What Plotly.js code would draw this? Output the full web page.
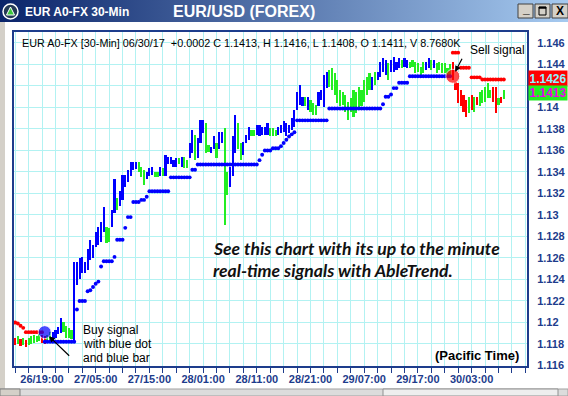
<!DOCTYPE html>
<html><head><meta charset="utf-8">
<script src="https://cdn.plot.ly/plotly-3.0.1.min.js"></script>
<style>html,body{margin:0;padding:0;background:#fff;overflow:hidden}#chart{width:568px;height:396px}</style>
</head><body><div id="chart"></div>
<script>
// ---------------- data ----------------
const firstBar = '2017-06-26 14:00';
const barMinutes = 30;

const barHigh = [
 1.1186,1.1187,1.1185,1.1186,1.1184,1.1186,1.1187,1.1188,1.1187,1.1189,1.1188,1.1187,
 1.1188,1.1191,1.1191,1.1193,1.1196,1.1204,1.1200,1.1197,1.1195,1.1193,
 1.1256,1.1256,1.1260,1.1261,1.1256,1.1268,1.1277,1.1272,1.1284,1.1289,1.1293,1.1307,
 1.1289,1.1288,1.1305,1.1333,1.1316,1.1322,1.1337,1.1337,1.1342,1.1349,1.1349,1.1349,
 1.1349,1.1345,1.1342,1.1340,1.1344,1.1345,1.1340,1.1340,1.1345,1.1344,1.1356,1.1354,
 1.1354,1.1351,1.1353,1.1353,1.1354,1.1354,1.1351,1.1367,1.1379,1.1374,1.1372,1.1388,
 1.1388,1.1386,1.1365,1.1363,1.1373,1.1367,1.1377,1.1377,1.1381,1.1340,1.1345,1.1373,
 1.1393,1.1386,1.1367,1.1368,1.1374,1.1382,1.1379,1.1379,1.1384,1.1384,1.1382,1.1382,
 1.1386,1.1381,1.1381,1.1379,1.1382,1.1384,1.1387,1.1386,1.1384,1.1390,1.1398,1.1414,
 1.1421,1.1410,1.1410,1.1410,1.1407,1.1404,1.1402,1.1414,1.1416,1.1430,1.1433,1.1435,
 1.1437,1.1432,1.1426,1.1416,1.1414,1.1412,1.1405,1.1409,1.1416,1.1414,1.1419,1.1416,
 1.1426,1.1428,1.1432,1.1428,1.1433,1.1433,1.1442,1.1446,1.1444,1.1441,1.1444,1.1447,
 1.1442,1.1446,1.1444,1.1446,1.1444,1.1442,1.1444,1.1442,1.1441,1.1438,1.1442,1.1442,
 1.1446,1.1444,1.1444,1.1441,1.1442,1.1441,1.1441,1.1437,1.1440,1.1442,1.1424,1.1423,
 1.1416,1.1412,1.1407,1.1410,1.1412,1.1410,1.1410,1.1414,1.1416,1.1419,1.1423,1.1416,
 1.1419,1.1419,1.1409,1.1410,1.1416
];
const barLow = [
 1.1179,1.1180,1.1178,1.1179,1.1177,1.1179,1.1180,1.1181,1.1182,1.1183,1.1181,1.1180,
 1.1183,1.1184,1.1184,1.1186,1.1189,1.1190,1.1191,1.1186,1.1186,1.1185,
 1.1182,1.1235,1.1240,1.1246,1.1246,1.1249,1.1258,1.1260,1.1270,1.1272,1.1275,1.1284,
 1.1274,1.1275,1.1289,1.1302,1.1305,1.1308,1.1314,1.1326,1.1331,1.1336,1.1342,1.1343,
 1.1340,1.1335,1.1328,1.1333,1.1336,1.1337,1.1335,1.1335,1.1336,1.1336,1.1336,1.1347,
 1.1347,1.1345,1.1345,1.1347,1.1345,1.1344,1.1344,1.1353,1.1358,1.1351,1.1353,1.1367,
 1.1376,1.1358,1.1359,1.1358,1.1361,1.1353,1.1361,1.1367,1.1291,1.1319,1.1326,1.1336,
 1.1358,1.1361,1.1351,1.1356,1.1367,1.1370,1.1373,1.1373,1.1374,1.1373,1.1374,1.1374,
 1.1374,1.1373,1.1373,1.1373,1.1374,1.1376,1.1377,1.1373,1.1376,1.1379,1.1382,1.1398,
 1.1402,1.1401,1.1401,1.1398,1.1396,1.1393,1.1393,1.1401,1.1407,1.1400,1.1418,1.1419,
 1.1416,1.1412,1.1404,1.1401,1.1402,1.1396,1.1388,1.1396,1.1391,1.1395,1.1398,1.1401,
 1.1405,1.1412,1.1416,1.1416,1.1421,1.1426,1.1428,1.1433,1.1430,1.1426,1.1433,1.1433,
 1.1435,1.1437,1.1437,1.1438,1.1437,1.1437,1.1438,1.1432,1.1433,1.1427,1.1432,1.1435,
 1.1437,1.1435,1.1437,1.1432,1.1435,1.1432,1.1432,1.1427,1.1428,1.1426,1.1416,1.1404,
 1.1401,1.1396,1.1391,1.1395,1.1398,1.1396,1.1402,1.1401,1.1404,1.1405,1.1409,1.1409,
 1.1405,1.1395,1.1402,1.1404,1.1408
];
// trend colour of each bar: B = up (blue), G = neutral (green), R = down (red)
const barTrend = (
 'RGRGRGGGGGRR GGBBBBGGGG BBBBBBBBBBBB GG BB G BBBBBBB GGG BBB GG B G BBBBB G B GG BB G BBB GG BB G BB GG BBB GG BBB GG ' +
 'BBBBB GGG BBBBBBBBBB G B GGG BBBB GGGGGGGGGGGGGGGG B G BBBB G BBBB G BB GGGGGG BB G B GGGGGG RRRRRR G R G R GGGGG RR G R G'
).replace(/\s/g, '').split('');
// trailing stop level under / over each bar
const stopLevel = [
 1.1200,1.1199,1.1197,1.1195,1.1191,1.1191,1.1191,1.1191,1.1191,1.1191,1.1191,1.1182,
 1.1182,1.1182,1.1182,1.1182,1.1182,1.1182,1.1182,1.1182,1.1182,1.1182,
 1.1182,1.1212,1.1220,1.1220,1.1220,1.1229,1.1230,1.1233,1.1236,1.1238,1.1252,1.1257,
 1.1257,1.1257,1.1257,1.1261,1.1277,1.1277,1.1277,1.1288,1.1298,1.1298,1.1312,1.1312,
 1.1312,1.1314,1.1314,1.1317,1.1322,1.1322,1.1322,1.1322,1.1322,1.1322,1.1322,1.1322,
 1.1335,1.1335,1.1335,1.1335,1.1335,1.1335,1.1335,1.1335,1.1342,1.1342,1.1347,1.1347,
 1.1347,1.1347,1.1347,1.1347,1.1347,1.1347,1.1347,1.1347,1.1347,1.1347,1.1347,1.1347,
 1.1347,1.1347,1.1347,1.1347,1.1347,1.1347,1.1347,1.1347,1.1347,1.1351,1.1356,1.1360,
 1.1360,1.1360,1.1362,1.1362,1.1362,1.1364,1.1367,1.1370,1.1373,1.1375,1.1377,1.1388,
 1.1388,1.1388,1.1388,1.1388,1.1388,1.1388,1.1388,1.1388,1.1388,1.1388,1.1388,1.1399,
 1.1399,1.1399,1.1399,1.1399,1.1399,1.1399,1.1399,1.1399,1.1399,1.1399,1.1399,1.1399,
 1.1399,1.1399,1.1399,1.1399,1.1399,1.1399,1.1399,1.1403,1.1410,1.1410,1.1412,1.1418,
 1.1418,1.1423,1.1423,1.1423,1.1423,1.1429,1.1429,1.1429,1.1429,1.1429,1.1429,1.1429,
 1.1429,1.1429,1.1429,1.1429,1.1429,1.1429,1.1429,1.1429,1.1429,1.1451,1.1451,1.1451,
 1.1437,1.1437,1.1437,1.1437,1.1428,1.1428,1.1428,1.1428,1.1426,1.1426,1.1426,1.1426,
 1.1426,1.1426,1.1426,1.1426,1.1426
];
const signalBar = [11, 163];
const signalKind = ['buy', 'sell'];
const signalPrice = [1.1191, 1.1429];
const stopValue = 1.1426;
const lastClose = 1.1413;
const yTickLabels = ['1.116','1.118','1.12','1.122','1.124','1.126','1.128','1.13','1.132','1.134','1.136','1.138','1.14','1.142','1.144','1.146'];
const yTickHidden = ['1.142'];           // covered by the value boxes in the original
const xTickLabels = ['26/19:00','27/05:00','27/15:00','28/01:00','28/11:00','28/21:00','29/07:00','29/17:00','30/03:00'];
const quoteLine = 'EUR A0-FX [30-Min] 06/30/17  +0.0002 C 1.1413, H 1.1416, L 1.1408, O 1.1411, V 8.7680K';
const windowTitle = 'EUR A0-FX 30-Min';
const chartTitle = 'EUR/USD (FOREX)';
const promoLines = ['See this chart with its up to the minute', 'real-time signals with AbleTrend.'];
const buyNote = ['Buy signal', 'with blue dot', 'and blue bar'];

// ---------------- build ----------------
const BLUE = '#0000ff', GREEN = '#22ee22', RED = '#ff0000';
const NAVY = '#1d3c8c', CYAN = '#b2f2f2';
const trendColor = {B: BLUE, G: GREEN, R: RED};
const t0 = Date.parse(firstBar.replace(' ', 'T') + ':00Z');
const fmt = ms => new Date(ms).toISOString().slice(0, 19).replace('T', ' ');
const barTimes = barHigh.map((_, i) => fmt(t0 + i * barMinutes * 60000));
const xTickVals = xTickLabels.map(s => {
  const [d, hm] = s.split('/');
  return '2017-06-' + d + ' ' + hm;
});

let side = 'sell';
const stopColor = stopLevel.map((_, i) => {
  const k = signalBar.indexOf(i);
  if (k >= 0) side = signalKind[k];
  return side === 'buy' ? BLUE : RED;
});

const W = 568, H = 396, ML = 14, MR = 41, MT = 32, MB = 30;
const px = x => (x - ML) / (W - ML - MR);
const py = y => (H - MB - y) / (H - MT - MB);

const traces = [
  {type: 'bar', x: barTimes, base: barLow, y: barHigh.map((h, i) => h - barLow[i]),
   width: 1.45e6, marker: {color: barTrend.map(c => trendColor[c]), line: {width: 0}}, hoverinfo: 'skip'},
  {type: 'scatter', mode: 'markers', x: barTimes, y: stopLevel,
   marker: {size: 3.9, color: stopColor}, hoverinfo: 'skip'},
  {type: 'scatter', mode: 'markers', x: signalBar.map(i => barTimes[i]), y: signalPrice,
   marker: {size: [13, 14], color: signalKind.map(k => k === 'buy' ? BLUE : RED)}, hoverinfo: 'skip'}
];

const svg = '<svg xmlns="http://www.w3.org/2000/svg" width="568" height="22" preserveAspectRatio="none">' +
  '<defs><linearGradient id="g" x1="0" x2="1" y1="0" y2="0"><stop offset="0" stop-color="#0a246a"/>' +
  '<stop offset="1" stop-color="#a6caf0"/></linearGradient></defs><rect width="568" height="22" fill="url(#g)"/></svg>';

const rect = (x0, y0, x1, y1, fill, line, lw) => ({type: 'rect', xref: 'paper', yref: 'paper',
  x0: px(x0), x1: px(x1), y0: py(y1), y1: py(y0), fillcolor: fill, line: {color: line || fill, width: lw || 0}, layer: 'above'});

const shapes = [
  rect(0, 22, 5, 396, '#d4d0c8'),
  rect(0, 389, 568, 396, '#dcdcdc', '#a0a0a0', 1),
  rect(0, 389, 20, 396, '#d4d0c8', '#808080', 1),
  rect(383, 389, 558, 396, '#eeeeee', '#909090', 1),
  rect(518, 4, 533, 18, '#d4d0c8', '#404040', 1),
  rect(535, 4, 550, 18, '#d4d0c8', '#404040', 1),
  rect(552, 4, 568, 18, '#d4d0c8', '#404040', 1),
  rect(539, 7, 546, 15, 'rgba(0,0,0,0)', '#000000', 1),
  rect(539, 7, 546, 8.5, '#000000', '#000000', 0.5),
  {type: 'circle', xref: 'paper', yref: 'paper', x0: px(3), x1: px(18), y0: py(19), y1: py(4),
   fillcolor: '#243a55', line: {color: '#ffffff', width: 1.5}, layer: 'above'},
  {type: 'path', xref: 'paper', yref: 'paper', layer: 'above',
   path: `M ${px(6.5)} ${py(15)} L ${px(10.5)} ${py(7)} L ${px(14.5)} ${py(15)} Z`,
   fillcolor: '#3cc83c', line: {color: '#ffffff', width: 1}}
];

const txt = (text, x, y, opt) => Object.assign({text, xref: 'paper', yref: 'paper', x: px(x), y: py(y),
  showarrow: false, xanchor: 'left', yanchor: 'middle',
  font: {family: 'Liberation Sans, Arial, sans-serif', size: 11, color: '#000000'}}, opt || {});

const annotations = [
  txt(windowTitle, 23, 12, {font: {family: 'Liberation Sans, Arial', size: 12, color: '#ffffff', weight: 'bold'}}),
  txt(chartTitle, 244, 12, {xanchor: 'center', font: {family: 'Liberation Sans, Arial', size: 16, color: '#ffffff', weight: 'bold'}}),
  txt('_', 525.5, 9, {xanchor: 'center', font: {family: 'Liberation Sans, Arial', size: 12, color: '#000', weight: 'bold'}}),
  txt('X', 560, 11.5, {xanchor: 'center', font: {family: 'Liberation Sans, Arial', size: 12, color: '#000', weight: 'bold'}}),
  txt(quoteLine, 20, 43, {font: {family: 'Liberation Sans, Arial, sans-serif', size: 10.8, color: '#000'}}),
  txt('Sell signal', 468, 50, {font: {family: 'Liberation Sans, Arial', size: 12, color: '#000'}}),
  ...buyNote.map((s, k) => txt(s, 81, 330 + k * 14, {font: {family: 'Liberation Sans, Arial', size: 12, color: '#000'}})),
  ...promoLines.map((s, k) => txt(s, 211, 248 + k * 22, {font: {family: 'Lato, sans-serif', size: 17.6, color: '#111', weight: 'bold', style: 'italic'}})),
  txt('(Pacific Time)', 521, 355, {xanchor: 'right', font: {family: 'Liberation Sans, Arial', size: 13, color: '#000', weight: 'bold'}}),
  {text: '', xref: 'x', yref: 'y', x: barTimes[signalBar[1]], y: signalPrice[1], ax: 10, ay: -19,
   showarrow: true, arrowhead: 2, arrowsize: 1, arrowwidth: 1.2, arrowcolor: '#000', standoff: 5},
  {text: '', xref: 'x', yref: 'y', x: barTimes[signalBar[0]], y: signalPrice[0], ax: 26, ay: 25,
   showarrow: true, arrowhead: 2, arrowsize: 1, arrowwidth: 1.2, arrowcolor: '#000', standoff: 6},
  {text: '<b>' + stopValue.toFixed(4) + '</b>', xref: 'paper', yref: 'y', x: px(528), y: stopValue, yshift: 1.5,
   xanchor: 'left', yanchor: 'middle', showarrow: false, bgcolor: RED, width: 36, height: 13, borderpad: 1,
   font: {family: 'Liberation Sans, Arial', size: 12, color: '#8ff4ff'}},
  {text: '<b>' + lastClose.toFixed(4) + '</b>', xref: 'paper', yref: 'y', x: px(528), y: lastClose,
   xanchor: 'left', yanchor: 'middle', showarrow: false, bgcolor: '#22ee22', width: 36, height: 12, borderpad: 1,
   font: {family: 'Liberation Sans, Arial', size: 12, color: '#ee00ee'}}
];

const tickFont = {family: 'Liberation Sans, Arial, sans-serif', size: 11, color: NAVY, weight: 'bold'};

const layout = {
  width: W, height: H, margin: {l: ML, r: MR, t: MT, b: MB, pad: 0},
  paper_bgcolor: '#ffffff', plot_bgcolor: '#ffffff', showlegend: false, bargap: 0,
  xaxis: {type: 'date', range: ['2017-06-26 13:47:07', '2017-06-30 13:19:00'],
    tickmode: 'array', tickvals: xTickVals, ticktext: xTickLabels,
    ticks: 'outside', ticklen: 5, tickwidth: 1, tickcolor: NAVY, ticklabelstandoff: -3,
    showgrid: true, gridcolor: CYAN, gridwidth: 1,
    minor: {tick0: '2017-06-26 19:00', dtick: 2.5 * 3600000, ticks: 'outside', ticklen: 5, tickcolor: NAVY, showgrid: true, gridcolor: CYAN},
    showline: true, mirror: true, linecolor: NAVY, linewidth: 2, zeroline: false, tickfont: tickFont, fixedrange: true},
  yaxis: {side: 'right', range: [1.11595, 1.14702], tickvals: yTickLabels.map(Number),
    ticktext: yTickLabels.map(s => yTickHidden.includes(s) ? '' : s),
    ticks: '', showgrid: true, gridcolor: CYAN, gridwidth: 1, showline: true, mirror: true, linecolor: NAVY, linewidth: 2,
    zeroline: false, tickfont: tickFont, ticklabelstandoff: 6, fixedrange: true},
  shapes, annotations,
  images: [{source: 'data:image/svg+xml;charset=utf-8,' + encodeURIComponent(svg), xref: 'paper', yref: 'paper',
    x: px(0), y: py(0), sizex: W / (W - ML - MR), sizey: 22 / (H - MT - MB), xanchor: 'left', yanchor: 'top',
    sizing: 'stretch', layer: 'below'}]
};

Plotly.newPlot('chart', traces, layout, {staticPlot: true, displayModeBar: false});
</script>
</body></html>
